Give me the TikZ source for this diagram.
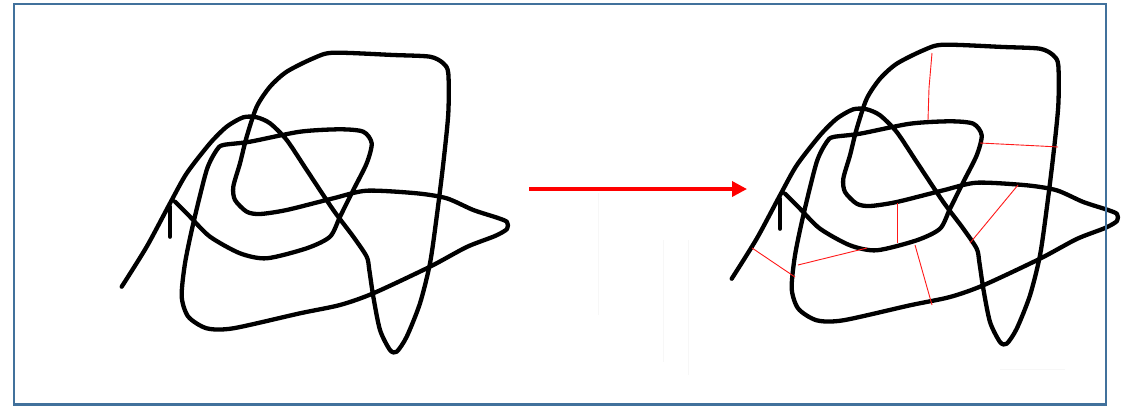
\documentclass[tikz,border=0pt]{standalone}
\usetikzlibrary{arrows.meta}
\definecolor{frameblue}{RGB}{65,113,156}
\definecolor{arrowred}{RGB}{255,0,0}
\tikzset{
  knot/.style={line width=4.3pt, line cap=round, line join=round, black},
  cut/.style={line width=0.9pt, red!90!white},
  faint/.style={line width=0.8pt, black!3},
}
\newcommand{\drawknot}{%
\draw[knot] plot[smooth, tension=0.45] coordinates {
(121.7,286.7) (146.7,246.7) (170,203.3) (186.7,173.3) (210,143.3) (226.7,126.7)
(243.3,117.3) (256.7,117.3) (270,123.3) (286.7,140) (306.7,170) (333.3,210)
(353.3,236.7) (366.7,256.7) (369.3,270) (373.3,296.7) (380,330) (390,350)
(396.7,351.7) (406.7,336.7) (420,303.3) (430,263.3) (436.7,216.7) (443.3,163.3)
(448.3,113.3) (448.3,73.3) (443.3,63.3) (430,56.7) (393.3,55) (333.3,52.7)
(313.3,58.3) (286.7,71.7) (270,86.7) (256.7,106.7) (246.7,136.7) (240,163.3)
(233.3,186.7) (235,200) (246.7,211.7) (260,214) (286.7,210) (333.3,198.3)
(366.7,190.7) (416.7,193.3) (446.7,198.3) (473.3,210) (498,218) (507,222)
(507,229) (495,236) (466.7,247) (430,266.7) (373.3,293.3) (340,305) (300,313.3)
(233.3,328.3) (206.7,328.3) (188.3,316.7) (181.7,296.7) (185,263.3) (193.3,223.3)
(206.7,170) (216.7,150) (223.3,145) (250,141.7) (300,131.7) (340,129.3)
(363.3,131.7) (371.7,143.3) (366.7,163.3) (353.3,190) (340,216.7) (330,236.7)
(306.7,248.3) (266.7,258.3) (240,253.3) (210,236.7) (190,216.7) (175,201.7)
};
\coordinate (stubtop) at (170,206.7);
\coordinate (stubbot) at (170,236.7);
\draw[knot] (stubtop) -- (stubbot);
}
\begin{document}
\begin{tikzpicture}[x=1pt,y=-1pt]
\useasboundingbox (0,0) rectangle (1123,407);
\fill[white] (0,0) rectangle (1123,407);
% faint artifacts
\coordinate (fa1) at (598,193); \coordinate (fa2) at (598,315);
\coordinate (fb1) at (663,240); \coordinate (fb2) at (663,362);
\coordinate (fc1) at (688,240); \coordinate (fc2) at (688,375);
\coordinate (fd1) at (1000,369); \coordinate (fd2) at (1065,369);
\draw[faint] (fa1) -- (fa2);
\draw[faint] (fb1) -- (fb2);
\draw[faint] (fc1) -- (fc2);
\draw[faint] (fd1) -- (fd2);
% left knot
\drawknot
% right knot
\begin{scope}[shift={(610,-8)}]
\drawknot
\end{scope}
% red cut lines
\draw[cut] (932,53) -- (929,88) -- (928,120);
\draw[cut] (980,143) -- (1040,146) -- (1058,147);
\draw[cut] (1018,185) -- (970,243);
\draw[cut] (897,203) -- (897,243);
\draw[cut] (915,245) -- (932,305);
\draw[cut] (752,248) -- (795,277);
\draw[cut] (798,265) -- (867,248);
% arrow
\coordinate (arrS) at (529,189);
\coordinate (arrE) at (747,189);
\draw[arrowred, line width=3.5pt, -{Triangle[length=15pt,width=15pt]}] (arrS) -- (arrE);
% frame
\draw[frameblue, line width=2.5pt] (14,3.8) rectangle (1106,404.5);
\end{tikzpicture}
\end{document}
